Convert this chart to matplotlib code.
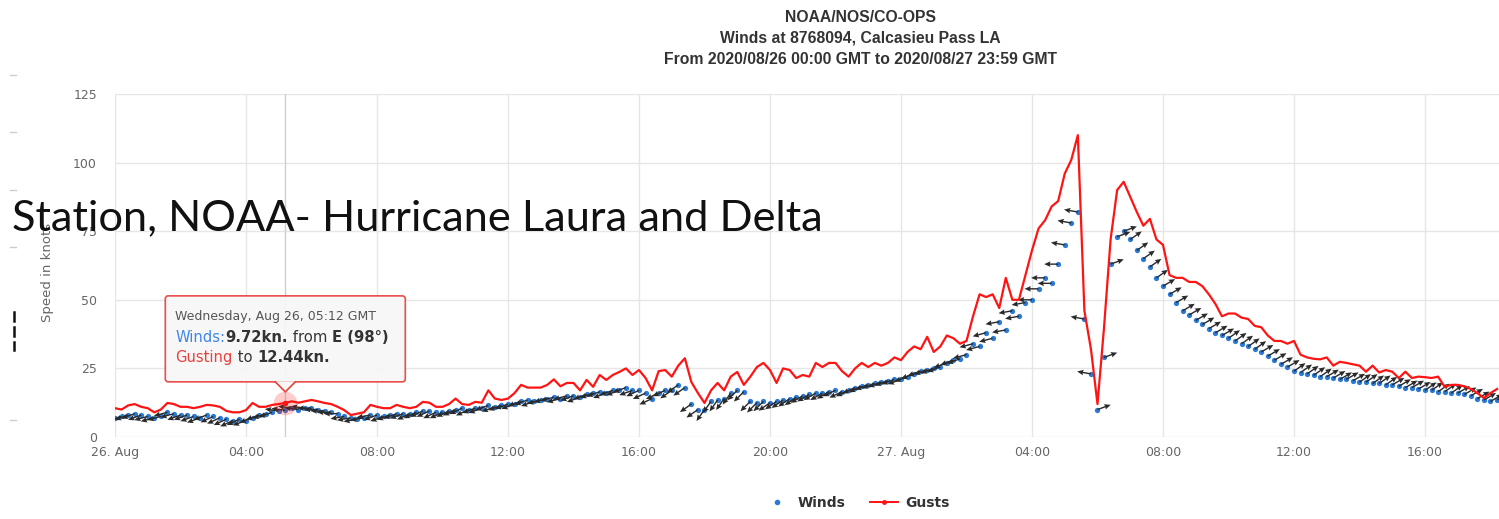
import numpy as np
import matplotlib
matplotlib.use("Agg")
import matplotlib.pyplot as plt
from matplotlib.patches import FancyBboxPatch, Polygon
from matplotlib.lines import Line2D
from matplotlib.transforms import IdentityTransform

W, H = 1499, 519
STEP_H = 0.2  # 12-minute samples, hours since 2020-08-26 00:00 GMT

# Gust speed (kn), one value per 12-minute sample
gusts_kn = [
    10.5, 10, 11.5, 12, 11,        # 00h
    10.5, 9, 10, 12.4, 12,         # 01h
    11, 11, 10.5, 11, 11.7,        # 02h
    11.5, 11, 9.5, 9, 9,           # 03h
    9.8, 12.4, 11, 11, 11.7,       # 04h
    12, 12.44, 13, 12.5, 13,       # 05h
    13.5, 13, 12.4, 12, 11,        # 06h
    9.8, 8, 8.5, 9, 11.7,          # 07h
    11, 10.5, 10.5, 11.7, 11,      # 08h
    10.5, 11, 12.8, 12.5, 11,      # 09h
    11, 12, 14, 12, 11.7,          # 10h
    12.8, 12.5, 17, 14, 13.5,      # 11h
    14, 16, 19, 18, 18,            # 12h
    18, 19, 21, 18.5, 19.7,        # 13h
    19.7, 17, 20.8, 18.3, 22.6,    # 14h
    20.8, 22.6, 23.7, 25, 22.6,    # 15h
    24.4, 21.5, 17, 24, 24.4,      # 16h
    22, 26, 28.7, 20, 16,          # 17h
    12.4, 17, 19.7, 17, 22,        # 18h
    23.7, 19, 22, 25.5, 27,        # 19h
    24.4, 19.7, 25, 24.4, 21.5,    # 20h
    22.6, 22, 27, 25.5, 27,        # 21h
    27, 24, 22, 25, 27,            # 22h
    25.5, 27, 26, 27, 29,          # 23h
    28, 31, 33, 32, 36.5,          # 27 Aug 00h
    31, 33, 37, 36, 34,            # 01h
    35, 44, 52, 51, 52,            # 02h
    47, 58, 50, 50, 59,            # 03h
    68, 76, 79, 84, 86,            # 04h
    96, 101, 110, 46, 32,          # 05h
    12, 40, 72, 90, 93,            # 06h
    87.5, 82, 77, 79.5, 72,        # 07h
    70, 59, 58, 58, 56.5,          # 08h
    56.5, 55, 52, 48.5, 44,        # 09h
    45, 45, 43.5, 43, 40.5,        # 10h
    40, 37, 35, 35, 34,            # 11h
    35, 30, 29, 28.5, 28.3,        # 12h
    29, 26, 27.4, 27, 26.5,        # 13h
    26, 23.8, 26, 23.5, 24.4,      # 14h
    23.8, 21.5, 23.8, 21.5, 22,    # 15h
    21.8, 21.5, 22, 18.3, 19,      # 16h
    19, 18.5, 17.5, 16, 14.2,      # 17h
    16, 17.5,                      # 18h
]

# Sustained wind speed (kn), same sample times
winds_kn = [
    7, 7.5, 8, 8.5, 8,
    7.5, 7, 7.5, 9, 8.5,
    8, 8, 7.5, 7, 8,
    7.5, 7, 6.5, 6, 6.5,
    6, 7, 8, 8.5, 9,
    9.5, 9.72, 10.5, 10, 10.5,
    10.5, 10, 9.5, 9, 8.5,
    7.5, 7, 6.5, 7, 8,
    8, 7.5, 8, 8.5, 8.5,
    8.5, 9, 9.5, 9.5, 9,
    9, 9.5, 10, 10.5, 10,
    10.5, 10.5, 11.5, 11, 11.5,
    12, 12, 13, 13.5, 13,
    13.5, 14, 14.5, 14, 15,
    15, 14.5, 15.5, 16, 16.5,
    16, 17, 17, 18, 17,
    17, 16, 14, 16, 17,
    17, 19, 18, 12, 10,
    10, 13, 13.5, 14, 16,
    17, 16.5, 13, 12.5, 13,
    12.5, 13, 13.5, 14, 14.5,
    15, 15.5, 16, 16, 16.5,
    17, 16.5, 17, 18, 18.5,
    19, 19.5, 20, 20.5, 21,
    21, 22, 23, 24, 24.5,
    25, 25.5, 27, 28, 28.5,
    30, 34, 33, 38, 36,
    42, 39, 46, 44, 49,
    50, 54, 58, 56, 63,
    70, 78, 82, 43, 23,
    10, 29, 63, 73, 75,
    72, 68, 65, 62, 58,
    55, 52, 49, 46, 44.5,
    42.5, 41, 39.5, 38, 37,
    36, 35, 34, 33, 32,
    31, 29.5, 28, 26.5, 25.5,
    24, 23.5, 23, 22.5, 22,
    22, 21.5, 21, 21, 20.5,
    20, 20, 19.5, 19.5, 19,
    19, 18.5, 18, 18, 17.5,
    17, 17, 16.5, 16.5, 16,
    16, 15.5, 15, 14, 13.5,
    13, 13.5,
]

# Hourly wind direction (degrees the wind blows from)
wind_from_deg = [
    70, 75, 70, 65, 70, 98, 90, 80, 70, 65,
    65, 70, 70, 75, 70, 70, 65, 55, 35, 45,
    55, 60, 65, 70, 70, 70, 75, 80, 90, 100,
    250, 235, 240, 240, 235, 240, 235, 240, 235, 240,
    235, 240, 240,
]

tick_hours = [0, 4, 8, 12, 16, 20, 24, 28, 32, 36, 40]
tick_labels = ["26. Aug", "04:00", "08:00", "12:00", "16:00", "20:00",
               "27. Aug", "04:00", "08:00", "12:00", "16:00"]
speed_ticks = [0, 25, 50, 75, 100, 125]

hover_index = 26  # Wednesday 05:12 GMT
hover_dir_label = "E (98°)"

BLUE = "#2b7bd6"
RED = "#ff1414"
GRID = "#e6e6e6"
LABEL = "#666666"

hours = np.arange(len(gusts_kn)) * STEP_H
gusts = np.array(gusts_kn)
winds = np.array(winds_kn)

fig = plt.figure(figsize=(W / 100, H / 100), dpi=100)
fig.patch.set_facecolor("white")
ax = fig.add_axes([115 / W, 82 / H, (W - 115) / W, 343 / H])
ax.set_xlim(0, (W - 115) / 32.75)
ax.set_ylim(0, 125)
for s in ax.spines.values():
    s.set_visible(False)
ax.set_xticks(tick_hours)
ax.set_xticklabels(tick_labels)
ax.set_yticks(speed_ticks)
ax.grid(True, color=GRID, lw=1, zorder=0)
ax.set_axisbelow(True)
ax.tick_params(axis="both", length=0, colors=LABEL, labelsize=9)
ax.tick_params(axis="y", pad=13)
ax.tick_params(axis="x", pad=6.5)
ax.set_ylabel("Speed in knots", color=LABEL, fontsize=9.5)
ax.yaxis.set_label_coords((54 - 115) / (W - 115), 0.48)

# hover crosshair
ax.axvline(hours[hover_index], color="#cfcfcf", lw=1, zorder=1)

# wind speed markers with direction arrows
ax.plot(hours, winds, ls="none", marker="o", ms=3.8, color=BLUE,
        mec="none", zorder=3)
hour_idx = np.minimum(np.floor(hours + 1e-9).astype(int), len(wind_from_deg) - 1)
theta = np.radians(np.array(wind_from_deg)[hour_idx])
arrow_len = 14.0
u = -np.sin(theta) * arrow_len
v = -np.cos(theta) * arrow_len
ax.quiver(hours, winds, u, v, angles="uv", scale_units="dots", scale=1,
          units="dots", width=1.4, headwidth=4, headlength=4.5,
          headaxislength=4, color="#2a2a2a", zorder=4)

# gusts
ax.plot(hours, gusts, color=RED, lw=1.6, zorder=5)

# hovered point halo
ax.plot(hours[hover_index], gusts[hover_index], marker="o", ms=17,
        color=RED, alpha=0.22, mec="none", zorder=6)
ax.plot(hours[hover_index], gusts[hover_index], marker="o", ms=4,
        color=RED, mec="none", zorder=7)

# title
title_lines = ["NOAA/NOS/CO-OPS",
               "Winds at 8768094, Calcasieu Pass LA",
               "From 2020/08/26 00:00 GMT to 2020/08/27 23:59 GMT"]
for i, line in enumerate(title_lines):
    fig.text(860 / W, 1 - (17 + 21 * i) / H, line, ha="center", va="center",
             fontsize=11.3, fontweight="bold", color="#333333",
             family="Liberation Sans")

# tooltip box anchored on the hovered gust point
fig.canvas.draw()
px, py = ax.transData.transform((hours[hover_index], gusts[hover_index]))
ident = IdentityTransform()
bw, bh = 240, 86
bx0 = px - bw / 2
by0 = py + 21
box = FancyBboxPatch((bx0, by0), bw, bh, boxstyle="round,pad=0,rounding_size=3",
                     transform=ident, facecolor="#f7f7f7",
                     edgecolor="#e8413c", lw=1.2, alpha=0.93, zorder=20,
                     clip_on=False)
ax.add_artist(box)
tri = Polygon([(px - 10, by0 + 0.6), (px, by0 - 10), (px + 10, by0 + 0.6)],
              closed=True, transform=ident, facecolor="#f7f7f7",
              edgecolor="none", zorder=21, clip_on=False)
ax.add_artist(tri)
ax.add_artist(Line2D([px - 10, px, px + 10], [by0, by0 - 10, by0],
                     transform=ident, color="#e8413c", lw=1.2, zorder=22,
                     clip_on=False))


def chain(prev, s, **kw):
    return ax.annotate(s, xy=(1, 0), xycoords=prev, va="bottom", ha="left",
                       annotation_clip=False, zorder=23, **kw)


tx = bx0 + 10
ax.text(tx, by0 + bh - 24, "Wednesday, Aug 26, 05:12 GMT", transform=ident,
        fontsize=9, color="#555555", va="baseline", zorder=23)

w0 = ax.text(tx, by0 + bh - 46, "Winds:", transform=ident, fontsize=10.6,
             color="#3d86e8", va="baseline", zorder=23)
w1 = chain(w0, f"{winds[hover_index]:.2f}kn.", fontsize=10.6, color="#333333",
           fontweight="bold")
w2 = chain(w1, " from ", fontsize=10.6, color="#333333")
chain(w2, hover_dir_label, fontsize=10.6, color="#333333", fontweight="bold")

g0 = ax.text(tx, by0 + bh - 66, "Gusting", transform=ident, fontsize=10.6,
             color="#e8413c", va="baseline", zorder=23)
g1 = chain(g0, " to ", fontsize=10.6, color="#333333")
chain(g1, f"{gusts[hover_index]:.2f}kn.", fontsize=10.6, color="#333333",
      fontweight="bold")

# legend
handles = [Line2D([], [], ls="none", marker="o", ms=3, color=BLUE, label="Winds"),
           Line2D([], [], color=RED, lw=1.4, marker="o", ms=2.5, label="Gusts")]
fig.legend(handles=handles, loc="center", bbox_to_anchor=(856 / W, 1 - 503 / H),
           ncol=2, frameon=False, handlelength=2.0, handletextpad=0.5,
           columnspacing=1.8, prop={"weight": "bold", "size": 10},
           labelcolor="#333333")

# small marks along the left margin
for yy in [75, 132, 190, 247, 420]:
    fig.add_artist(Line2D([10 / W, 16 / W], [1 - yy / H, 1 - yy / H],
                          color="#cccccc", lw=1))
for y0, y1 in [(312, 321), (327, 336), (342, 350)]:
    fig.add_artist(Line2D([14 / W, 14 / W], [1 - y0 / H, 1 - y1 / H],
                          color="#111111", lw=1.8))

# overlay caption
fig.text(12 / W, 1 - 230 / H, "Station, NOAA- Hurricane Laura and Delta",
         ha="left", va="baseline", fontsize=31.2, color="#111111",
         family="Lato", zorder=30)

fig.savefig("out.png", dpi=100)
